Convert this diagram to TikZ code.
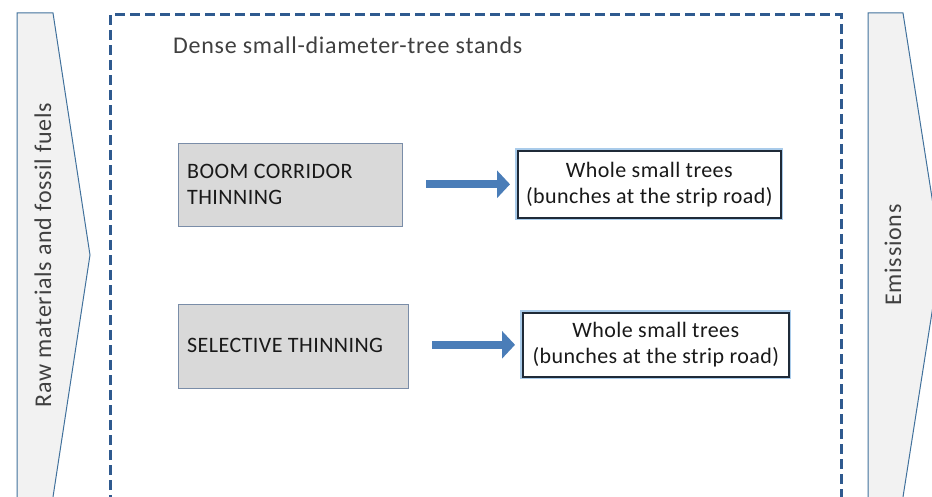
\documentclass[tikz,border=0pt]{standalone}
\usepackage{fontspec}
\setmainfont{Carlito}
\usetikzlibrary{arrows.meta,shadows}
\definecolor{sideedge}{HTML}{41719C}
\definecolor{sidefill}{HTML}{F2F2F2}
\definecolor{dashblue}{HTML}{2F5A8F}
\definecolor{boxfill}{HTML}{D9D9D9}
\definecolor{boxedge}{HTML}{7A8DA8}
\definecolor{outedge}{HTML}{1F2A38}
\definecolor{glow}{HTML}{A9CBEA}
\definecolor{arrowblue}{HTML}{4A7DB8}
\definecolor{graytext}{HTML}{404040}
\newfontfamily\grayfont[LetterSpace=3]{Carlito}
\newfontfamily\boxfont[LetterSpace=2]{Carlito}
\tikzset{
  sidearrow/.style={draw=sideedge, fill=sidefill, line width=1pt},
  stepbox/.style={draw=boxedge, fill=boxfill, line width=1pt, anchor=north west, inner sep=0pt},
  outbox/.style={draw=outedge, fill=white, line width=1.6pt, align=center, anchor=north west, inner sep=0pt,
     preaction={draw=glow, line width=5pt}},
  blockarrow/.style={draw=arrowblue, line width=8pt, -{Triangle[length=13pt,width=27pt]}},
  sidelabel/.style={text=graytext, font=\grayfont\fontsize{24}{28}\selectfont, rotate=90},
  boxtext/.style={text=black!90, font=\boxfont\fontsize{22}{26}\selectfont, align=left}
}
\begin{document}
\begin{tikzpicture}[x=1pt,y=-1pt]
\useasboundingbox (0,0) rectangle (932,497);
\clip (0,0) rectangle (932,497);
% side chevrons
\draw[sidearrow] (17,13) -- (53,13) -- (90,255) -- (53,497) -- (53,510) -- (17,510) -- cycle;
\draw[sidearrow] (868,13) -- (903,13) -- (941,255) -- (903,497) -- (903,510) -- (868,510) -- cycle;
\node[sidelabel] (raw) at (43,255) {Raw materials and fossil fuels};
\node[sidelabel] (emi) at (893,255) {Emissions};
% dashed frame
\draw[dashblue, line width=3pt, dash pattern=on 10pt off 5pt] (110,520) -- (110,15) -- (841,15) -- (841,520);
\node[anchor=west, text=graytext, font=\grayfont\fontsize{24}{28}\selectfont, inner sep=0pt] (title) at (173,45) {Dense small-diameter-tree stands};
% process boxes
\node[stepbox, minimum width=224pt, minimum height=83pt] (b1) at (178,143) {};
\node[boxtext, anchor=west, inner sep=0pt] (b1t) at (187,184.5) {BOOM CORRIDOR\\THINNING};
\node[stepbox, minimum width=230pt, minimum height=84pt] (b2) at (178,304) {};
\node[boxtext, anchor=west, inner sep=0pt] (b2t) at (187,345) {SELECTIVE THINNING};
% output boxes
\node[outbox, minimum width=263pt, minimum height=67pt] (o1) at (517,150) {};
\node[boxtext, align=center] (o1t) at (o1.center) {Whole small trees\\(bunches at the strip road)};
\node[outbox, minimum width=266pt, minimum height=64pt] (o2) at (522,312) {};
\node[boxtext, align=center] (o2t) at (o2.center) {Whole small trees\\(bunches at the strip road)};
% arrows
\draw[blockarrow, shorten <=23pt, shorten >=7pt] (b1.east |- o1.west) -- (o1.west);
\draw[blockarrow, shorten <=23pt, shorten >=7pt] (b2.east |- o2.west) -- (o2.west);
\end{tikzpicture}
\end{document}
